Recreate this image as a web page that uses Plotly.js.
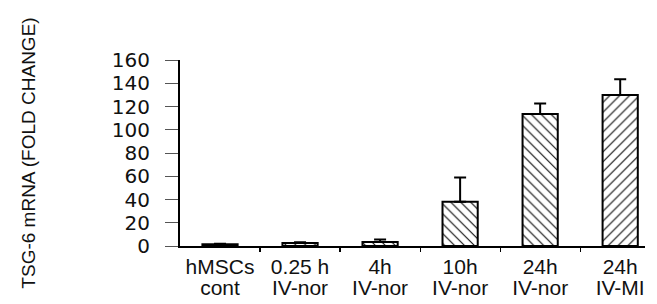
<!DOCTYPE html>
<html>
<head>
<meta charset="utf-8">
<script src="https://cdn.plot.ly/plotly-3.0.1.min.js"></script>
<style>html,body{margin:0;padding:0;background:#fff;}</style>
</head>
<body>
<div id="chart" style="width:657px;height:304px;"></div>
<script>
// Data
const labelLine1 = ["hMSCs", "0.25 h", "4h", "10h", "24h", "24h"];
const labelLine2 = ["cont", "IV-nor", "IV-nor", "IV-nor", "IV-nor", "IV-MI"];
const foldChange = [1.5, 2.5, 3.5, 38, 113.5, 130];
const errorUp = [0.5, 0.8, 2, 21, 9, 13.5];
const hatch = ["\\", "\\", "\\", "\\", "\\", "/"];
const yTicks = [0, 20, 40, 60, 80, 100, 120, 140, 160];

const pos = labelLine1.map((_, i) => i);
const bounds = pos.slice(0, -1).map(i => i + 0.5);
const xr = [-0.5, 5.31];

const trace = {
  type: "bar",
  x: pos,
  y: foldChange,
  width: 0.44,
  marker: {
    color: "white",
    line: {color: "black", width: 2},
    pattern: {shape: hatch, fgcolor: "black", bgcolor: "white", size: 7, solidity: 0.15, fillmode: "replace"}
  },
  error_y: {type: "data", symmetric: false, array: errorUp, arrayminus: errorUp.map(() => 0),
            color: "black", thickness: 2, width: 6},
  hoverinfo: "none"
};

const tf = {family: "Liberation Sans, Arial, sans-serif", size: 21, color: "#111"};

const layout = {
  width: 657, height: 304,
  margin: {l: 180, r: 12, t: 60, b: 58},
  paper_bgcolor: "white", plot_bgcolor: "white",
  showlegend: false,
  xaxis: {
    range: xr, showgrid: false, zeroline: false,
    showline: true, linecolor: "black", linewidth: 1.5,
    tickvals: pos, ticktext: labelLine1, ticks: "", tickfont: tf,
    ticklabelstandoff: 1, fixedrange: true
  },
  xaxis2: {
    overlaying: "x", range: xr, showgrid: false, zeroline: false, showline: false,
    tickvals: pos, ticktext: labelLine2, ticks: "", tickfont: tf,
    ticklabelstandoff: 27, side: "bottom", fixedrange: true
  },
  xaxis3: {
    overlaying: "x", range: xr, showgrid: false, zeroline: false, showline: false,
    tickvals: bounds, ticks: "outside", ticklen: 5, tickwidth: 1.2, tickcolor: "black",
    showticklabels: false, side: "bottom", fixedrange: true
  },
  yaxis: {
    range: [0, 160], showgrid: false, zeroline: false,
    showline: true, linecolor: "black", linewidth: 2,
    tickvals: yTicks, ticks: "outside", ticklen: 13, tickwidth: 1, tickcolor: "#555",
    tickfont: {family: "DejaVu Sans, sans-serif", size: 20, color: "#111"},
    ticklabelstandoff: 11,
    title: {text: "TSG-6 mRNA (FOLD CHANGE)", standoff: 71,
            font: {family: "Liberation Sans, Arial, sans-serif", size: 19, color: "#111"}},
    automargin: false, fixedrange: true
  }
};

const dummy2 = {type: "scatter", x: [0], y: [0], xaxis: "x2", mode: "markers", marker: {opacity: 0}, hoverinfo: "none"};
const dummy3 = {type: "scatter", x: [0], y: [0], xaxis: "x3", mode: "markers", marker: {opacity: 0}, hoverinfo: "none"};

Plotly.newPlot("chart", [trace, dummy2, dummy3], layout, {staticPlot: true, displayModeBar: false});
</script>
</body>
</html>
